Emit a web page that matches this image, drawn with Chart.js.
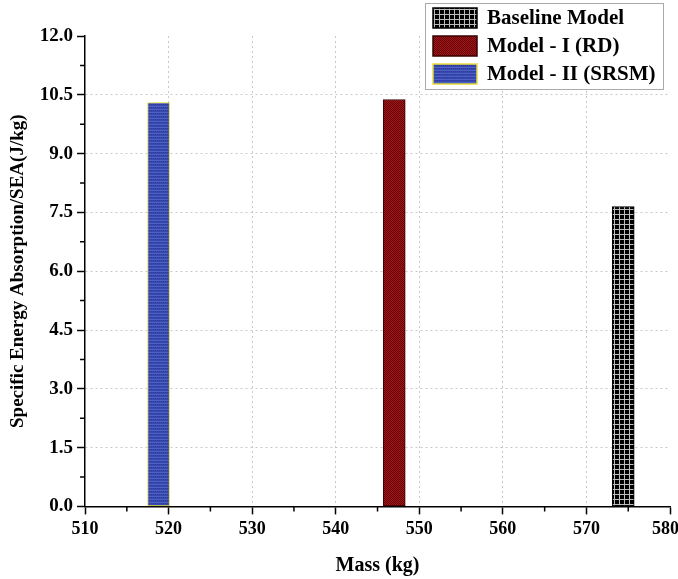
<!DOCTYPE html>
<html lang="en">

<head>
    <meta charset="UTF-8">
    <title>SEA vs Mass</title>
    <script src="https://cdn.jsdelivr.net/npm/chart.js"></script>
    <style>
        body {
            margin: 0;
            background: #fff;
        }

        .container {
            width: 678px;
            height: 579px;
        }
    </style>
</head>

<body>
    <div class="container">
        <canvas id="grafico" width="678" height="579"></canvas>
    </div>
    <script>
        // data
        const modelNames = ['Baseline Model', 'Model - I (RD)', 'Model - II (SRSM)'];
        const massValues = [574.4, 547.0, 518.8];
        const seaValues = [7.65, 10.38, 10.3];
        const yTicks = [0, 1.5, 3, 4.5, 6, 7.5, 9, 10.5, 12];
        const xTicks = [510, 520, 530, 540, 550, 560, 570, 580];

        const serif = '"Liberation Serif", "Times New Roman", serif';

        function makePattern(kind) {
            const c = document.createElement('canvas');
            const g = c.getContext('2d');
            if (kind === 'grid') {
                c.width = 5; c.height = 5;
                g.fillStyle = '#000';
                g.fillRect(0, 0, 5, 5);
                g.fillStyle = '#bdbdbd';
                g.fillRect(4, 0, 1, 5);
                g.fillRect(0, 4, 5, 1);
            } else if (kind === 'red') {
                c.width = 2; c.height = 2;
                g.fillStyle = '#a8141a';
                g.fillRect(0, 0, 2, 2);
                g.fillStyle = '#5c0606';
                g.fillRect(0, 0, 1, 1);
                g.fillRect(1, 1, 1, 1);
            } else {
                c.width = 2; c.height = 3;
                g.fillStyle = '#3848ae';
                g.fillRect(0, 0, 2, 3);
                g.fillStyle = '#4c62c4';
                g.fillRect(0, 1, 2, 1);
                g.fillStyle = '#2c3a98';
                g.fillRect(1, 2, 1, 1);
            }
            return g.createPattern(c, 'repeat');
        }

        const fills = [makePattern('grid'), makePattern('red'), makePattern('blue')];
        const borders = ['#000000', '#3a0000', '#e6dc3c'];

        const datasets = modelNames.map((name, i) => ({
            label: name,
            data: [{ x: massValues[i], y: seaValues[i] }],
            backgroundColor: fills[i],
            borderColor: borders[i],
            borderWidth: 1,
            borderSkipped: false,
            barThickness: 22
        }));

        // minor ticks on both axes
        const minorTicks = {
            id: 'minorTicks',
            afterDraw(chart) {
                const ctx = chart.ctx;
                const xs = chart.scales.x;
                const ys = chart.scales.y;
                ctx.save();
                ctx.strokeStyle = '#000';
                ctx.lineWidth = 1.5;
                ctx.beginPath();
                for (let v = 515; v < 580; v += 10) {
                    const px = xs.getPixelForValue(v);
                    ctx.moveTo(px, ys.bottom);
                    ctx.lineTo(px, ys.bottom + 5);
                }
                for (let v = 0.75; v < 12; v += 1.5) {
                    const py = ys.getPixelForValue(v);
                    ctx.moveTo(xs.left, py);
                    ctx.lineTo(xs.left - 5, py);
                }
                ctx.stroke();
                ctx.restore();
            }
        };

        // boxed legend in the top right corner
        const boxLegend = {
            id: 'boxLegend',
            afterDraw(chart) {
                const ctx = chart.ctx;
                const bx = 425, by = 3, bw = 238, bh = 86;
                ctx.save();
                ctx.fillStyle = '#fff';
                ctx.fillRect(bx, by, bw, bh);
                ctx.strokeStyle = '#aaa';
                ctx.lineWidth = 1;
                ctx.strokeRect(bx + 0.5, by + 0.5, bw, bh);
                ctx.font = 'bold 21px ' + serif;
                ctx.textBaseline = 'middle';
                chart.data.datasets.forEach((ds, i) => {
                    const y = by + 15 + i * 28;
                    ctx.fillStyle = ds.backgroundColor;
                    ctx.fillRect(433, y - 10, 44, 20);
                    ctx.strokeStyle = i === 0 ? '#000' : ds.borderColor;
                    ctx.lineWidth = 1.5;
                    ctx.strokeRect(433, y - 10, 44, 20);
                    ctx.fillStyle = '#000';
                    ctx.fillText(ds.label, 487, y + 1);
                });
                ctx.restore();
            }
        };

        new Chart(document.getElementById('grafico').getContext('2d'), {
            type: 'bar',
            data: { datasets: datasets },
            plugins: [minorTicks, boxLegend],
            options: {
                responsive: false,
                animation: false,
                grouped: false,
                layout: { padding: { top: 36, right: 2, left: 3, bottom: 0 } },
                plugins: {
                    legend: { display: false },
                    tooltip: { enabled: false }
                },
                scales: {
                    x: {
                        type: 'linear',
                        min: 510,
                        max: 580,
                        offset: false,
                        afterBuildTicks: scale => { scale.ticks = xTicks.map(v => ({ value: v })); },
                        // let the last label run to the canvas edge, as in the picture
                        afterFit: scale => { scale.paddingRight = 8; },
                        ticks: {
                            color: '#000',
                            font: { family: serif, size: 18, weight: 'bold' },
                            padding: 4,
                            // trailing en space nudges the last label left so it fits
                            callback: v => v === 580 ? v + '\u2002' : String(v)
                        },
                        grid: {
                            offset: false,
                            color: c => (c.tick && (c.tick.value === 510 || c.tick.value === 580)) ? 'rgba(0,0,0,0)' : '#c8c8c8',
                            lineWidth: 1,
                            tickColor: '#000',
                            tickWidth: 1.5,
                            tickLength: 8
                        },
                        border: { color: '#000', width: 1.5, dash: [2, 3] },
                        title: {
                            display: true,
                            text: 'Mass (kg)',
                            color: '#000',
                            font: { family: serif, size: 20, weight: 'bold' },
                            padding: { top: 10, bottom: 1 }
                        }
                    },
                    y: {
                        min: 0,
                        max: 12,
                        afterBuildTicks: scale => { scale.ticks = yTicks.map(v => ({ value: v })); },
                        ticks: {
                            color: '#000',
                            font: { family: serif, size: 19, weight: 'bold' },
                            callback: v => v.toFixed(1),
                            padding: 4
                        },
                        grid: {
                            color: c => (c.tick && (c.tick.value === 0 || c.tick.value === 12)) ? 'rgba(0,0,0,0)' : '#c8c8c8',
                            lineWidth: 1,
                            tickColor: '#000',
                            tickWidth: 1.5,
                            tickLength: 8
                        },
                        border: { color: '#000', width: 1.5, dash: [2, 3] },
                        title: {
                            display: true,
                            text: 'Specific Energy Absorption/SEA(J/kg)',
                            color: '#000',
                            font: { family: serif, size: 19, weight: 'bold' },
                            padding: { bottom: 6 }
                        }
                    }
                }
            }
        });
    </script>
</body>

</html>
